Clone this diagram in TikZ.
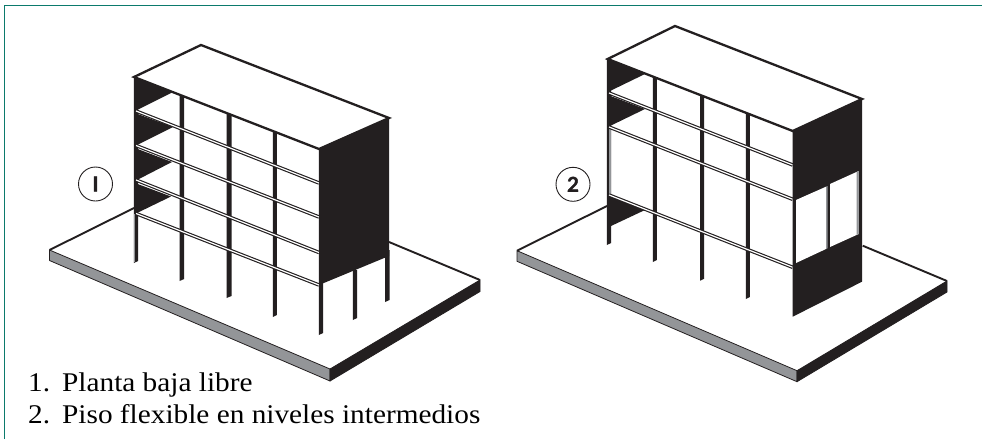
\documentclass[tikz,border=0pt]{standalone}
\usepackage{fontspec}
\setmainfont{Liberation Serif}
\newfontfamily\capfont[FakeStretch=1.085]{Liberation Serif}
\newfontfamily\markfont[BoldFeatures={FakeBold=1.6}]{Lato}
\definecolor{ink}{HTML}{231F20}
\definecolor{slate}{HTML}{939598}
\definecolor{teal2}{HTML}{0B7A6C}
\newcommand{\colm}[5][ink]{\fill[#1] (#2-.2,#4) -- (#3+.2,#4) -- (#3+.2,#5-2) -- (#2-.2,#5) -- cycle;}
\newcommand{\slabm}[4]{\draw[slab] (#1,#2) -- (#3,#4);}
\newcommand{\wedgem}[6]{\fill[ink] (#1,#2) -- (#3,#4) -- (#5,#6) -- cycle;}
\tikzset{
  x=1pt,y=-1pt,
  slab/.style={draw=ink,double=white,double distance=1.2pt,line width=1.15pt},
  edgeln/.style={draw=ink,line width=2.3pt,line join=miter},
  backln/.style={draw=ink,line width=1.9pt},
  faceln/.style={draw=ink,line width=.8pt,line join=round},
  markc/.style={circle,draw=ink,fill=white,line width=.9pt,minimum size=34pt,inner sep=0pt,font=\markfont\bfseries\fontsize{20.5}{20.5}\selectfont,text=ink},
  captext/.style={anchor=base west,inner sep=0pt,font=\capfont\fontsize{27}{28}\selectfont,text=black}
}
\begin{document}
\begin{tikzpicture}
\useasboundingbox (0,0) rectangle (982,439);
\fill[white] (0,0) rectangle (982,439);
\draw[teal2,line width=1.3pt] (4.5,439) -- (4.5,5.5) -- (982,5.5);
% ---- base 1
\fill[white] (49.5,250) -- (134,208) -- (389,242) -- (480,280) -- (330,369) -- cycle;
\draw[faceln,fill=slate] (49.5,250) -- (330,369) -- (330,381) -- (49.5,260.5) -- cycle;
\draw[faceln,fill=ink] (330,369) -- (480,280) -- (480,291.5) -- (330,381) -- cycle;
\draw[backln] (49.5,250) -- (134,208);
\draw[backln] (389,242) -- (480,280);
% ---- building 1 columns
\colm{134}{138}{77}{263}
\colm{179.7}{184}{90}{281}
\colm{226.7}{231.3}{110}{298}
\colm{273}{276.7}{128}{317}
\colm{319}{323}{149}{335}
\colm{353}{357}{270}{320}
\colm{385.3}{389.3}{250}{302}
\fill[slate] (134,214) rectangle (135.2,262);
% wedges
\wedgem{135}{77}{172}{92.5}{137}{110}
\wedgem{135}{113}{173}{127}{137}{145}
\wedgem{135}{148}{172}{162}{137}{180}
\wedgem{135}{183}{171}{196.5}{137}{213}
% slabs
\slabm{136}{111}{319}{183}
\slabm{136}{145.5}{319}{217}
\slabm{136}{180}{319}{252.5}
\slabm{136}{213.5}{319}{285}
% wall
\fill[ink] (319,149) -- (389,118) -- (389,256) -- (319,285) -- cycle;
% roof
\draw[edgeln,fill=white] (134,77) -- (201,45) -- (389,118) -- (319,149) -- cycle;
% mark
\node[markc] (m1) at (95.5,184) {I};
% ---- base 2
\fill[white] (517,250.7) -- (607,206) -- (862.7,245.7) -- (947,281) -- (797,370.7) -- cycle;
\draw[faceln,fill=slate] (517,250.7) -- (797,370.7) -- (797,381.7) -- (517,261.3) -- cycle;
\draw[faceln,fill=ink] (797,370.7) -- (947,281) -- (947,292) -- (797,381.7) -- cycle;
\draw[backln] (517,250.7) -- (607,206);
\draw[backln] (862.7,245.7) -- (947,281);
% ---- building 2 columns
\colm{607}{611}{59}{245}
\colm{653}{656.7}{74}{262}
\colm{700.3}{704}{92}{280.7}
\colm{746}{749.7}{110}{299}
\fill[slate] (609.4,128) rectangle (611.2,194);
% wedges
\wedgem{608}{59}{645}{74}{610}{91}
\wedgem{608}{95}{645}{109}{610}{126}
\wedgem{608}{196}{645}{210}{611}{226}
% slabs
\slabm{609}{93}{792.7}{165}
\slabm{609}{127}{792.7}{199.3}
\slabm{609}{195}{792.7}{267.3}
% wall with windows
\fill[ink] (792.7,131) -- (862,99) -- (862,281.7) -- (792.7,316.7) -- cycle;
\fill[white] (796,200) -- (826,186.7) -- (826,249) -- (796,263) -- cycle;
\fill[white] (830,184) -- (858.7,171) -- (858.7,234) -- (830,247) -- cycle;
\fill[slate] (826,186.7) -- (827.6,186) -- (827.6,248.3) -- (826,249) -- cycle;
\fill[slate] (856.7,172) -- (858.7,171) -- (858.7,234) -- (856.7,235) -- cycle;
% roof
\draw[edgeln,fill=white] (607.7,59) -- (675,26) -- (862,99) -- (792.7,131) -- cycle;
\node[markc] (m2) at (573,184.3) {2};
% ---- captions
\node[captext] (n1) at (28,391.7) {1.};
\node[captext] (t1) at (62,391.7) {Planta baja libre};
\node[captext] (n2) at (28,423) {2.};
\node[captext] (t2) at (62,423) {Piso flexible en niveles intermedios};
\end{tikzpicture}
\end{document}
